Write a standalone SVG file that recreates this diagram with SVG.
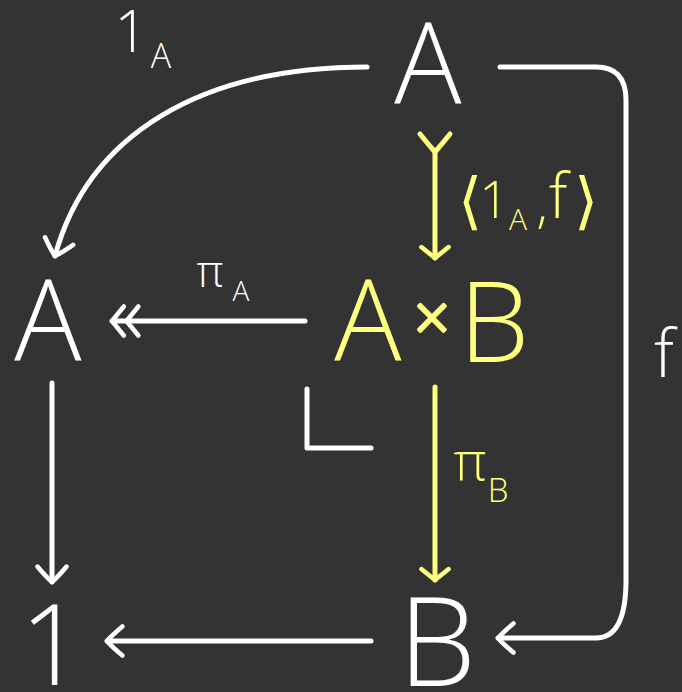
<svg xmlns="http://www.w3.org/2000/svg" width="682" height="692" viewBox="0 0 682 692">
<defs>
<style>
.w{fill:none;stroke:#ffffff;stroke-width:5;stroke-linecap:round;stroke-linejoin:round}
.y{fill:none;stroke:#ffff80;stroke-width:5;stroke-linecap:round;stroke-linejoin:round}
text{font-family:"Open Sans","Liberation Sans",sans-serif;font-weight:300;text-anchor:middle}
.tw{fill:#ffffff}
.ty{fill:#ffff80}
</style>
<marker id="hw" markerUnits="userSpaceOnUse" orient="auto" markerWidth="40" markerHeight="40" refX="0" refY="0" viewBox="-22 -22 30 44" overflow="visible">
<path d="M-17,-16 Q-5,-6 0,0 Q-5,6 -17,16" fill="none" stroke="#ffffff" stroke-width="5" stroke-linecap="round" stroke-linejoin="round"/>
</marker>
<marker id="hy" markerUnits="userSpaceOnUse" orient="auto" markerWidth="40" markerHeight="40" refX="0" refY="0" viewBox="-22 -22 30 44" overflow="visible">
<path d="M-12,-15 Q-4,-5 0,0 Q-4,5 -12,15" fill="none" stroke="#ffff80" stroke-width="5" stroke-linecap="round" stroke-linejoin="round"/>
</marker>
<marker id="epi" markerUnits="userSpaceOnUse" orient="auto" markerWidth="60" markerHeight="40" refX="0" refY="0" viewBox="-40 -22 48 44" overflow="visible">
<path d="M-13,-16 Q-4,-5 0,0 Q-4,5 -13,16 M-29,-16 Q-20,-5 -16,0 Q-20,5 -29,16" fill="none" stroke="#ffffff" stroke-width="5" stroke-linecap="round" stroke-linejoin="round"/>
</marker>
</defs>
<rect width="682" height="692" fill="#333333"/>

<g id="connectors">
<path class="w" d="M367,67 C200,67 88,135 55,256" marker-end="url(#hw)"/>
<path class="w" d="M500,67 L596,67 Q626,67 626,100 L626,580 Q626,638 596,638 L498,638" marker-end="url(#hw)"/>
<path class="y" d="M435,152 L435,258" marker-end="url(#hy)"/>
<path class="y" d="M420,134 Q428,144 435,152 Q442,144 450,134"/>
<path class="w" d="M305,321 L112,321" marker-end="url(#epi)"/>
<path class="y" d="M435,387 L435,580" marker-end="url(#hy)"/>
<path class="w" d="M52,383 L52,582" marker-end="url(#hw)"/>
<path class="w" d="M371,641 L107,641" marker-end="url(#hw)"/>
<path class="w" d="M307,389 L307,448 L371,448"/>
</g>

<g id="nodeA-top"><text class="tw" x="428" y="103" font-size="112">A</text></g>
<g id="nodeA-left"><text class="tw" x="48" y="360" font-size="112">A</text></g>
<g id="nodeAxB">
<text class="ty" x="368" y="360" font-size="112">A</text>
<text class="ty" x="432" y="340" font-size="62" stroke="#ffff80" stroke-width="3" stroke-linejoin="round">×</text>
<text class="ty" x="494" y="362" font-size="112">B</text>
</g>
<g id="node1"><text class="tw" x="52" y="685" font-size="112">1</text></g>
<g id="nodeB"><text class="tw" x="437" y="686" font-size="124">B</text></g>

<g id="labels">
<text class="tw" x="131" y="52" font-size="58">1</text>
<text class="tw" x="161" y="68" font-size="34">A</text>
<text class="tw" x="664" y="377" font-size="66">f</text>
<text class="tw" x="210" y="287" font-size="44">π</text>
<text class="tw" x="241" y="301" font-size="28">A</text>
<text class="ty" x="470" y="480" font-size="54">π</text>
<text class="ty" x="498" y="502" font-size="33">B</text>
<text class="ty" x="470" y="222" font-size="62">⟨</text>
<text class="ty" x="494" y="218" font-size="52">1</text>
<text class="ty" x="518" y="230" font-size="30">A</text>
<text class="ty" x="542" y="222" font-size="52">,</text>
<text class="ty" x="558" y="218" font-size="62">f</text>
<text class="ty" x="586" y="222" font-size="62">⟩</text>
</g>
</svg>
